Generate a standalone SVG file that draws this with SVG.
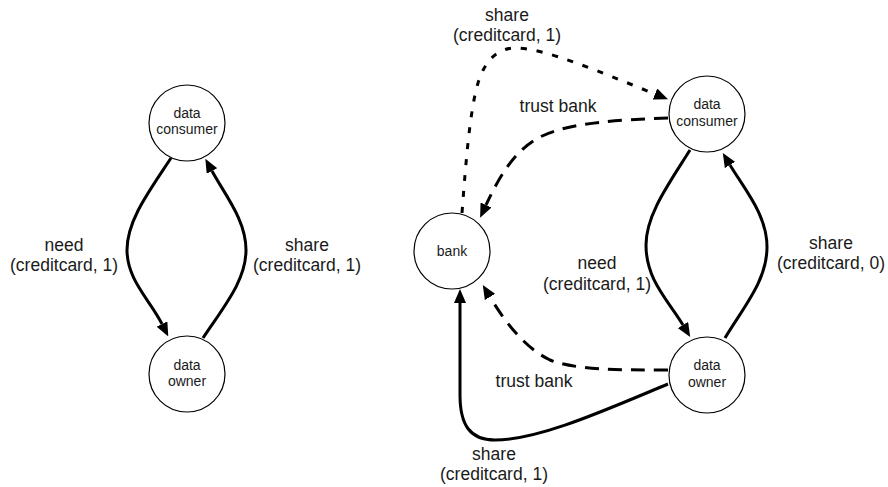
<svg xmlns="http://www.w3.org/2000/svg" width="888" height="487" viewBox="0 0 888 487">
<style>
.node{fill:#fff;stroke:#000;stroke-width:1.2}
.nt{font-family:"Liberation Sans",Arial,sans-serif;font-size:14px;fill:#1a1a1a;text-anchor:middle}
.lb{font-family:"Liberation Sans",Arial,sans-serif;font-size:17.5px;fill:#1a1a1a;text-anchor:middle}
.e{fill:none;stroke:#000;stroke-width:3;marker-end:url(#arr)}
.dash{stroke-dasharray:14 9}
.dot{stroke-dasharray:6 10}
</style>
<defs>
<marker id="arr" markerUnits="userSpaceOnUse" markerWidth="14" markerHeight="12" refX="0" refY="6" orient="auto">
<path d="M0,0 L14,6 L0,12 z" fill="#000"/>
</marker>
</defs>
<rect width="888" height="487" fill="#fff"/>
<g id="left-consumer"><circle class="node" cx="187" cy="123" r="38"/><text class="nt" x="187" y="117.5">data</text><text class="nt" x="187" y="134">consumer</text></g>
<g id="left-owner"><circle class="node" cx="187" cy="374" r="38"/><text class="nt" x="187" y="369.5">data</text><text class="nt" x="187" y="386">owner</text></g>
<g id="bank"><circle class="node" cx="452" cy="251" r="38"/><text class="nt" x="452" y="255.5">bank</text></g>
<g id="right-consumer"><circle class="node" cx="707" cy="114" r="38"/><text class="nt" x="707" y="109">data</text><text class="nt" x="707" y="126">consumer</text></g>
<g id="right-owner"><circle class="node" cx="707" cy="375" r="38"/><text class="nt" x="707" y="370">data</text><text class="nt" x="707" y="387">owner</text></g>
<g id="connectors">
<path class="e" d="M171,158 C150,190 127,220 127,250 C127,280 150,300 162,324"/>
<path class="e" d="M203,338 C225,305 246,280 246,250 C246,220 225,195 212,171"/>
<path class="e" d="M690,150 C668,185 646,215 646,245 C646,280 668,300 683,325"/>
<path class="e" d="M725,338 C745,305 767,280 767,247 C767,215 745,190 730,165"/>
<path class="e dot" d="M462,213 C466,160 470,110 478,83 C485,60 498,48 515,48 C545,48 600,72 655,94"/>
<path class="e dash" d="M668,118 C620,120 570,122 540,137 C515,150 500,175 486,205"/>
<path class="e dash" d="M668,370 C620,370 575,370 550,360 C525,348 505,322 490,297"/>
<path class="e" d="M668,384 C610,408 540,440 495,440 C470,440 460,425 460,395 L460,303"/>
</g>
<g id="labels">
<text class="lb" x="64" y="251">need</text><text class="lb" x="64" y="271">(creditcard, 1)</text>
<text class="lb" x="307" y="251">share</text><text class="lb" x="307" y="271">(creditcard, 1)</text>
<text class="lb" x="507" y="21">share</text><text class="lb" x="507" y="41">(creditcard, 1)</text>
<text class="lb" x="558" y="112">trust bank</text>
<text class="lb" x="597" y="269">need</text><text class="lb" x="597" y="290">(creditcard, 1)</text>
<text class="lb" x="831" y="249">share</text><text class="lb" x="831" y="269">(creditcard, 0)</text>
<text class="lb" x="534" y="387">trust bank</text>
<text class="lb" x="494" y="460">share</text><text class="lb" x="494" y="480">(creditcard, 1)</text>
</g>
</svg>
